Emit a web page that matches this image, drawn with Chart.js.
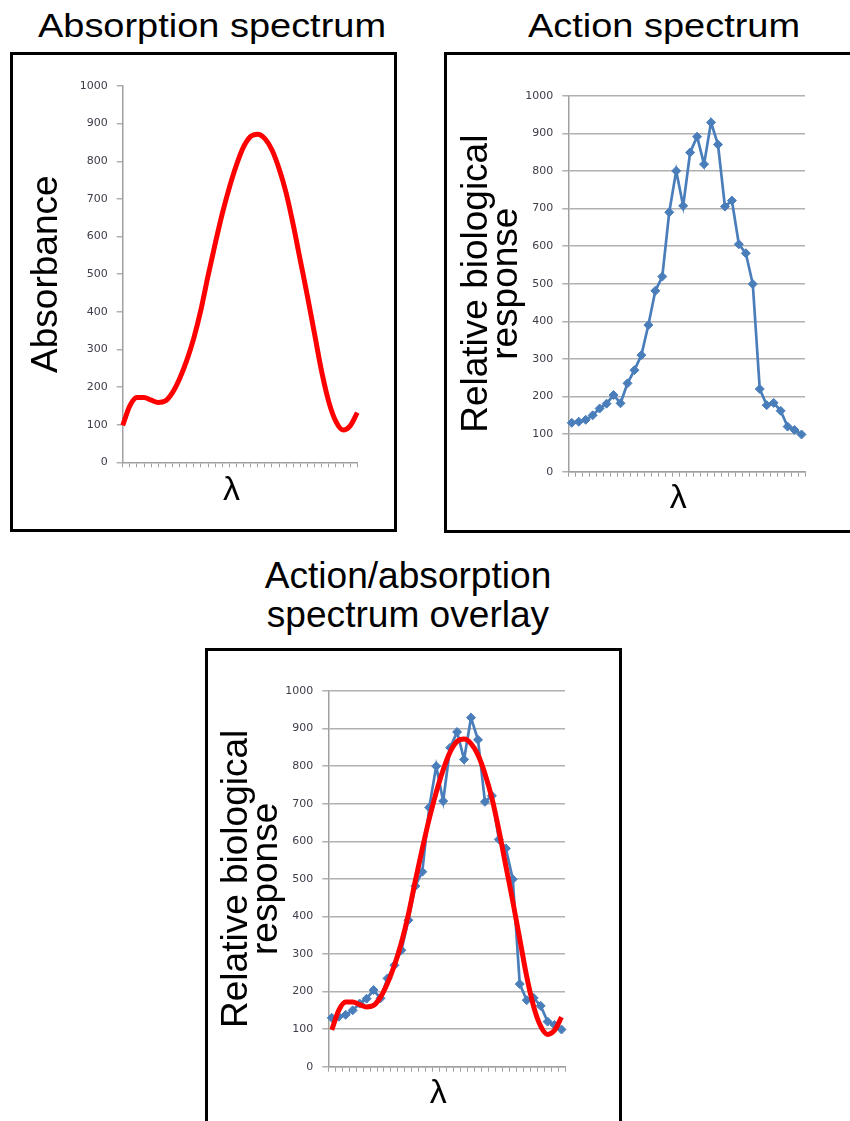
<!DOCTYPE html>
<html>
<head>
<meta charset="utf-8">
<script src="https://cdn.jsdelivr.net/npm/chart.js@4.4.0/dist/chart.umd.min.js"></script>
<style>
body{margin:0;width:850px;height:1121px;overflow:hidden;background:#fff;position:relative;font-family:"Liberation Sans",Arial,sans-serif;}
.box{position:absolute;border:3px solid #000;box-sizing:border-box;}
.ttl{position:absolute;color:#000;text-align:center;white-space:nowrap;}
canvas{position:absolute;}
</style>
</head>
<body>
<div class="ttl" style="left:12px;top:9px;width:400px;font-size:33px;line-height:33px;transform:scaleX(1.15);">Absorption spectrum</div>
<div class="ttl" style="left:464px;top:9px;width:400px;font-size:33px;line-height:33px;transform:scaleX(1.15);">Action spectrum</div>
<div class="ttl" style="left:208px;top:556px;width:400px;font-size:36px;line-height:39px;transform:scaleX(1.03);">Action/absorption<br>spectrum overlay</div>

<div class="box" style="left:10px;top:52px;width:387px;height:480px;"></div>
<div class="box" style="left:444px;top:52px;width:420px;height:481px;"></div>
<div class="box" style="left:205px;top:648px;width:417px;height:500px;"></div>

<canvas id="absChart" width="381" height="474" style="left:13px;top:55px;"></canvas>
<canvas id="actChart" width="403" height="475" style="left:447px;top:55px;"></canvas>
<canvas id="overlayChart" width="411" height="470" style="left:208px;top:651px;"></canvas>

<script>
// wavelength steps (no labels shown on the axis)
var wavelengths = ['1','2','3','4','5','6','7','8','9','10','11','12','13','14','15','16','17',
    '18','19','20','21','22','23','24','25','26','27','28','29','30','31','32','33','34'];

// absorption curve (red)
var absorbance = [98, 150, 172, 172, 165, 159, 163, 185, 222, 270, 330, 405, 495, 580, 660, 730, 790,
    838, 866, 872, 860, 830, 780, 715, 630, 535, 440, 340, 240, 160, 108, 86, 97, 132];

// action spectrum (blue)
var response = [130, 133, 138, 150, 168, 181, 204, 182, 235, 270, 310, 390, 481, 519, 690, 800, 707,
    849, 891, 818, 929, 870, 705, 721, 605, 581, 499, 220, 177, 183, 162, 120, 111, 99];

var yMin = 0, yMax = 1000, yStep = 100;

var titleFont = 'Liberation Sans';
var tickFont = 'DejaVu Sans';
var gridColor = '#b0b0b0';
var axisColor = '#a0a0a0';
var red = '#ff0000';
var blue = '#4a7ebb';

Chart.defaults.font.family = titleFont;

function makeScales(o) {
    return {
        x: {
            offset: o.offset,
            grid: {display: true, drawOnChartArea: false, drawTicks: true, tickLength: 5,
                offset: o.offset, color: axisColor, lineWidth: 1},
            border: {display: true, color: axisColor, width: 1.5},
            ticks: {display: false},
            title: {display: true, text: 'λ\u2002', color: '#000',
                font: {family: titleFont, size: 34, lineHeight: 1},
                padding: {top: 0, bottom: o.lamPad}},
            afterFit: function(s) { s.height = o.xh; }
        },
        y: {
            min: yMin,
            max: yMax,
            ticks: {stepSize: yStep, padding: 9, color: '#3c3c4a',
                font: {family: tickFont, size: 11},
                callback: function(v) { return String(v); }},
            grid: {display: true, drawOnChartArea: o.gridOn, drawTicks: true, tickLength: 6,
                color: gridColor, lineWidth: 1.5},
            border: {display: true, color: axisColor, width: 1.5},
            title: {display: true, text: o.yTitle, color: '#000',
                font: {family: titleFont, size: 37, lineHeight: 0.81},
                padding: {top: o.yPad, bottom: 0}},
            afterFit: function(s) { s.width = o.yw; }
        }
    };
}

function redSet() {
    return {
        label: 'Absorbance',
        data: absorbance,
        borderColor: red,
        backgroundColor: red,
        borderWidth: 5,
        borderCapStyle: 'butt',
        fill: false,
        cubicInterpolationMode: 'monotone',
        pointRadius: 0,
        pointHoverRadius: 0
    };
}

function blueSet() {
    return {
        label: 'Relative biological response',
        data: response,
        borderColor: blue,
        backgroundColor: blue,
        borderWidth: 2.7,
        fill: false,
        tension: 0,
        pointStyle: 'rectRot',
        pointRadius: 4.5,
        pointBorderWidth: 1,
        pointBorderColor: blue,
        pointBackgroundColor: blue
    };
}

function baseOptions(pad, scales) {
    return {
        responsive: false,
        animation: false,
        layout: {padding: pad},
        plugins: {legend: {display: false}, tooltip: {enabled: false}},
        scales: scales
    };
}

new Chart(document.getElementById('absChart'), {
    type: 'line',
    data: {labels: wavelengths, datasets: [redSet()]},
    options: baseOptions({left: 0, right: 36.7, top: 31, bottom: 0},
        makeScales({offset: false, gridOn: false, xh: 66.7, lamPad: 21,
            yw: 109.7, yPad: 19, yTitle: 'Absorbance'}))
});

new Chart(document.getElementById('actChart'), {
    type: 'line',
    data: {labels: wavelengths, datasets: [blueSet()]},
    options: baseOptions({left: 0, right: 45, top: 40.7, bottom: 0},
        makeScales({offset: true, gridOn: true, xh: 58.3, lamPad: 14,
            yw: 121.3, yPad: 15, yTitle: ['Relative biological', 'response']}))
});

new Chart(document.getElementById('overlayChart'), {
    type: 'line',
    data: {labels: wavelengths, datasets: [redSet(), blueSet()]},
    options: baseOptions({left: 0, right: 54, top: 40, bottom: 0},
        makeScales({offset: true, gridOn: true, xh: 54.3, lamPad: 10,
            yw: 120.3, yPad: 14, yTitle: ['Relative biological', 'response']}))
});
</script>
</body>
</html>
